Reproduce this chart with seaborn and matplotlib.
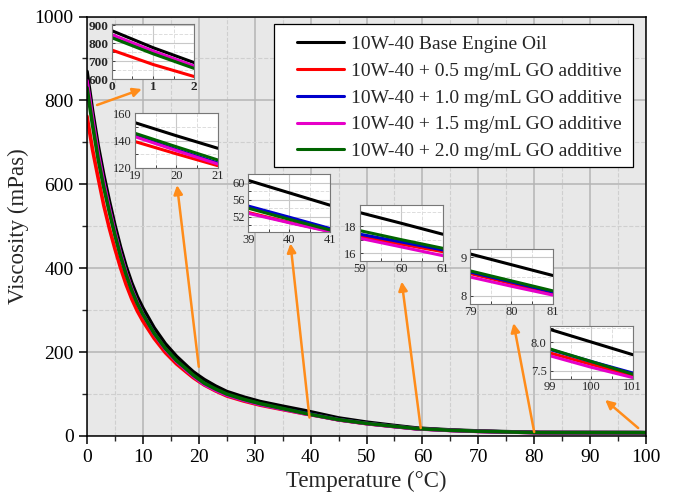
import matplotlib
matplotlib.use('Agg')
import matplotlib.pyplot as plt
from matplotlib.patches import Rectangle
from matplotlib.ticker import AutoMinorLocator, MultipleLocator, FormatStrFormatter
import seaborn as sns
import pandas as pd

# Temperature points (°C)
temperature = [0, 1, 2, 3, 4, 5, 6, 7, 8, 9, 10, 12, 14, 16, 18, 19, 20, 21, 23, 25, 28, 31,
               35, 39, 40, 41, 45, 50, 55, 59, 60, 61, 65, 70, 75, 79, 80, 81, 85, 90, 95,
               99, 100, 101]

# Viscosity (mPas) per sample
base_oil = [869, 775, 692, 622, 560, 502, 450, 404, 365, 332, 305, 258, 220, 190, 165,
            153.1, 143.5, 134.3, 119, 106, 93, 82, 71, 60.5, 57.6, 54.7, 43, 33, 25,
            18.98, 18.2, 17.4, 14.5, 12.0, 10.3, 9.09, 8.81, 8.53, 8.45, 8.38, 8.30,
            8.22, 8.00, 7.78]
go_05 = [762, 682, 615, 550, 495, 446, 401, 361, 327, 298, 274, 233, 199, 172, 150,
         139.2, 130.2, 121.5, 107.5, 95.5, 83.5, 73.5, 63, 53.0, 50.7, 48.6, 38.5, 29.5, 22.5,
         17.22, 16.67, 16.12, 13.4, 11.1, 9.6, 8.58, 8.32, 8.06, 7.98, 7.92, 7.86,
         7.81, 7.61, 7.41]
go_10 = [843, 752, 670, 601, 540, 484, 433, 388, 350, 318, 291, 245, 208, 179, 155,
         143.5, 133.3, 123.5, 110, 98, 86, 75.5, 64.5, 54.5, 51.9, 49.25, 39, 30, 22.8,
         17.4, 16.83, 16.25, 13.5, 11.2, 9.7, 8.62, 8.36, 8.10, 8.03, 7.97, 7.92,
         7.87, 7.66, 7.46]
go_15 = [847, 756, 673, 603, 542, 485, 434, 389, 350, 318, 290, 244, 207, 178, 154,
         142.8, 132.6, 122.7, 109, 97.5, 85.5, 75, 64, 52.8, 50.6, 48.5, 38.5, 29.5, 22.4,
         17.1, 16.47, 15.83, 13.2, 11.0, 9.5, 8.49, 8.25, 8.02, 7.94, 7.87, 7.81,
         7.76, 7.56, 7.38]
go_20 = [830, 741, 660, 593, 534, 479, 429, 385, 347, 316, 290, 245, 209, 180, 157,
         145.3, 135.4, 125.7, 112, 100, 87.5, 77, 65.5, 54.0, 51.4, 48.9, 39, 30, 23,
         17.66, 17.0, 16.37, 13.6, 11.3, 9.75, 8.65, 8.39, 8.13, 8.05, 7.98, 7.93,
         7.88, 7.66, 7.44]

labels = ['10W-40 Base Engine Oil',
          '10W-40 + 0.5 mg/mL GO additive',
          '10W-40 + 1.0 mg/mL GO additive',
          '10W-40 + 1.5 mg/mL GO additive',
          '10W-40 + 2.0 mg/mL GO additive']
colors = ['#000000', '#ff0000', '#0000cc', '#e600c8', '#006400']

# zoom windows: x range, y range, y ticks
inset_x = [(0, 2), (19, 21), (39, 41), (59, 61), (79, 81), (99, 101)]
inset_y = [(600, 904), (120, 160), (48.5, 62), (15.46, 19.54), (7.78, 9.21), (7.35, 8.28)]
inset_yticks = [[600, 700, 800, 900], [120, 140, 160], [52, 56, 60], [16, 18], [8, 9], [7.5, 8.0]]

frames = []
for lab, vals in zip(labels, [base_oil, go_05, go_10, go_15, go_20]):
    frames.append(pd.DataFrame({'T': temperature, 'V': vals, 'Sample': lab}))
df = pd.concat(frames, ignore_index=True)

sns.set_theme(style='ticks')
plt.rcParams['font.family'] = ['Liberation Serif', 'DejaVu Serif']

W, H = 674, 493
fig = plt.figure(figsize=(W / 100, H / 100), dpi=100)


def px_box(l, t, r, b):
    return [l / W, 1 - b / H, (r - l) / W, (b - t) / H]


AX_L, AX_T, AX_R, AX_B = 87, 16.5, 646, 436
ax = fig.add_axes(px_box(AX_L, AX_T, AX_R, AX_B))
ax.set_facecolor('#e8e8e8')
sns.lineplot(data=df, x='T', y='V', hue='Sample', palette=colors, linewidth=2.6,
             ax=ax, sort=False, estimator=None)

ax.set_xlim(0, 100)
ax.set_ylim(0, 1000)
ax.xaxis.set_major_locator(MultipleLocator(10))
ax.xaxis.set_minor_locator(MultipleLocator(5))
ax.yaxis.set_major_locator(MultipleLocator(200))
ax.yaxis.set_minor_locator(MultipleLocator(100))
ax.grid(which='major', color='#b4b4b4', linestyle='-', linewidth=1.1)
ax.grid(which='minor', color='#cfcfcf', linestyle='--', linewidth=0.8)
ax.set_axisbelow(True)
ax.tick_params(which='major', direction='out', length=6, width=1.1, labelsize=14, colors='black')
ax.tick_params(which='minor', direction='out', length=3.5, width=1.0)
for s in ax.spines.values():
    s.set_color('black')
    s.set_linewidth(1.1)
ax.set_xlabel('Temperature (°C)', fontsize=16.5, labelpad=3)
ax.set_ylabel('Viscosity (mPas)', fontsize=16.5, labelpad=4)


def ax_frac(px, py):
    return ((px - AX_L) / (AX_R - AX_L), (AX_B - py) / (AX_B - AX_T))


# legend box drawn by hand so the padding matches
bx0, by0 = ax_frac(274, 166.7)
bx1, by1 = ax_frac(633, 24)
ax.add_patch(Rectangle((bx0, by0), bx1 - bx0, by1 - by0, transform=ax.transAxes,
                       facecolor='white', edgecolor='black', linewidth=0.9, zorder=4))
leg = ax.legend(loc='upper left', bbox_to_anchor=ax_frac(297, 35.5), borderaxespad=0,
                borderpad=0, frameon=False, fontsize=14, handlelength=2.4,
                labelspacing=0.47, handletextpad=0.4)
leg.set_zorder(5)
for h in leg.get_lines():
    h.set_linewidth(2.2)

# arrows from curve to zoom windows (tail, head) in data coords
arrow_tail = [(1.8, 789), (20, 165), (39.8, 44), (59.7, 19), (80, 9.5), (98.6, 19)]
arrow_head = [(9.8, 827), (16.1, 598), (36.4, 459), (56.3, 368), (76.3, 269), (92.7, 86)]
for tail, head in zip(arrow_tail, arrow_head):
    ax.annotate('', xy=head, xytext=tail,
                arrowprops=dict(arrowstyle='-|>', color='#ff8c1a', lw=1.8,
                                mutation_scale=13, shrinkA=0, shrinkB=0))

inset_px = [(111.7, 24.3, 194.3, 79.3), (135, 113.3, 217.7, 167.7), (248.3, 174, 330, 231.7),
            (360, 205, 442.7, 260.7), (470, 249.3, 552.7, 304.3), (550, 326, 632.7, 379.3)]

for i, box in enumerate(inset_px):
    ins = fig.add_axes(px_box(*box))
    ins.set_facecolor('white')
    sub = df[(df['T'] >= inset_x[i][0]) & (df['T'] <= inset_x[i][1])]
    sns.lineplot(data=sub, x='T', y='V', hue='Sample', palette=colors, linewidth=2.2,
                 ax=ins, sort=False, estimator=None, legend=False)
    ins.set_xlim(*inset_x[i])
    ins.set_ylim(*inset_y[i])
    ins.set_xticks(range(inset_x[i][0], inset_x[i][1] + 1))
    ins.set_yticks(inset_yticks[i])
    if i == 5:
        ins.yaxis.set_major_formatter(FormatStrFormatter('%.1f'))
    ins.xaxis.set_minor_locator(AutoMinorLocator(2))
    ins.yaxis.set_minor_locator(AutoMinorLocator(2))
    ins.grid(which='major', color='#c8c8c8', linestyle='-', linewidth=0.8)
    ins.grid(which='minor', color='#dddddd', linestyle='--', linewidth=0.7)
    ins.set_axisbelow(True)
    ins.set_xlabel('')
    ins.set_ylabel('')
    weight = 'bold' if i == 0 else 'normal'
    ins.tick_params(which='both', direction='in', length=2, width=0.6,
                    labelsize=9.5 if i == 0 else 9)
    ins.tick_params(axis='x', pad=1.5)
    ins.tick_params(axis='y', pad=2.5)
    for t in ins.get_xticklabels() + ins.get_yticklabels():
        t.set_fontweight(weight)
    for s in ins.spines.values():
        s.set_color('#777777')
        s.set_linewidth(0.8)

fig.savefig('out.png', dpi=100)
